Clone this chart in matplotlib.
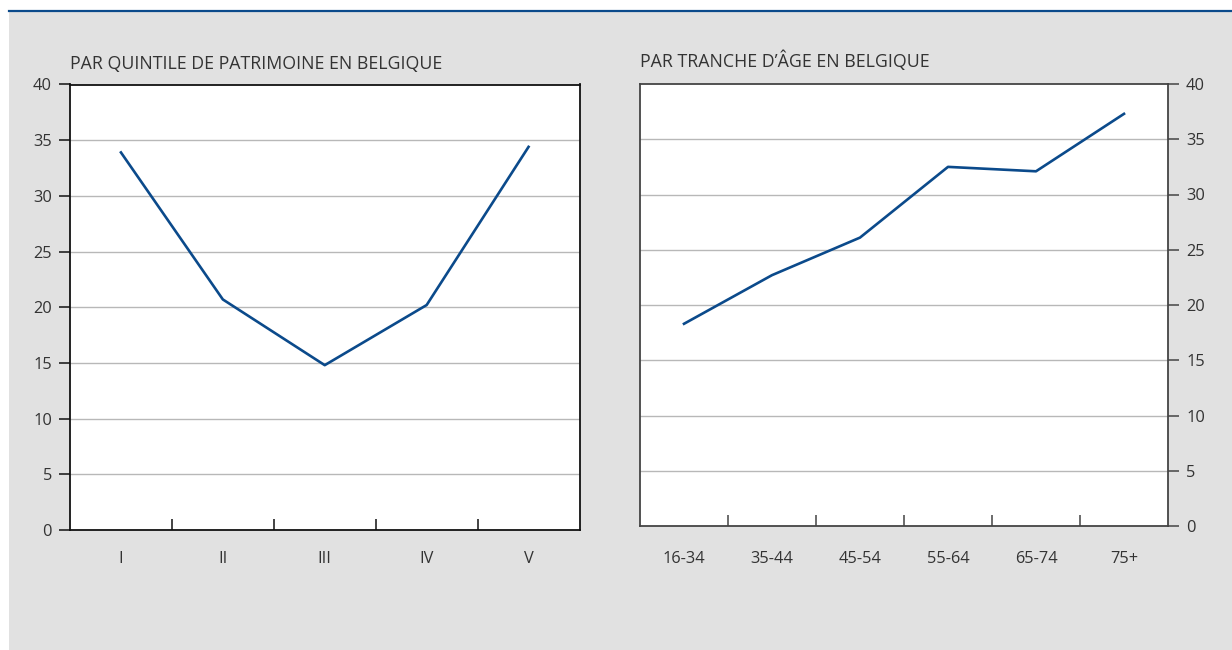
import matplotlib.pyplot as plt
from matplotlib.patches import Rectangle
from matplotlib.lines import Line2D

plt.rcParams['font.family'] = ['Open Sans', 'DejaVu Sans']

# data
quintiles = ["I", "II", "III", "IV", "V"]
quintile_vals = [33.9, 20.7, 14.8, 20.2, 34.4]

age_groups = ["16-34", "35-44", "45-54", "55-64", "65-74", "75+"]
age_vals = [18.3, 22.7, 26.1, 32.5, 32.1, 37.3]

titles = ["PAR QUINTILE DE PATRIMOINE EN BELGIQUE", "PAR TRANCHE D\u2019\u00c2GE EN BELGIQUE"]

LINE_COL = "#0b4a8b"
TEXT_COL = "#333333"
GRID_COL = "#b8b8b8"
BG = "#e1e1e1"

W, H = 1232, 650
fig = plt.figure(figsize=(W / 100, H / 100), dpi=100, facecolor="white")

# grey panel + blue rule on top
fig.add_artist(Rectangle((9 / W, 0), 1 - 9 / W, 1 - 11 / H, transform=fig.transFigure,
                         facecolor=BG, edgecolor="none", zorder=-5))
fig.add_artist(Line2D([9 / W, 1], [1 - 10.5 / H, 1 - 10.5 / H], transform=fig.transFigure,
                      color=LINE_COL, linewidth=1.6, zorder=-4))


def px_axes(x0, y0, x1, y1):
    return fig.add_axes([x0 / W, 1 - y1 / H, (x1 - x0) / W, (y1 - y0) / H])


def style(ax, cats, vals, title, title_y, spine_col, side, xpad):
    n = len(cats)
    x = list(range(n))
    ax.set_facecolor("white")
    ax.plot(x, vals, color=LINE_COL, linewidth=1.9, zorder=3)
    ax.set_xlim(-0.5, n - 0.5)
    ax.set_ylim(0, 40)
    ax.set_yticks(range(0, 41, 5))
    ax.set_xticks(x)
    ax.set_xticklabels(cats)
    ax.set_xticks([i + 0.5 for i in range(n - 1)], minor=True)
    ax.tick_params(axis="x", which="major", length=0, pad=xpad, labelsize=11.8, labelcolor=TEXT_COL)
    ax.tick_params(axis="x", which="minor", direction="in", length=8, width=1.1, color=spine_col)
    ax.tick_params(axis="y", length=8, width=1.1, color=spine_col, pad=5, labelsize=11.8,
                   labelcolor=TEXT_COL, left=(side == "left"), labelleft=(side == "left"),
                   right=(side == "right"), labelright=(side == "right"))
    for y in range(5, 40, 5):
        ax.axhline(y, color=GRID_COL, linewidth=1.0, zorder=1)
    for s in ax.spines.values():
        s.set_color(spine_col)
        s.set_linewidth(1.3)
        s.set_zorder(4)
    x0 = ax.get_position().x0
    fig.text(x0, 1 - title_y / H, title, ha="left", va="baseline",
             fontsize=12.8, color=TEXT_COL)


ax1 = px_axes(70, 84.5, 579.5, 530)
style(ax1, quintiles, quintile_vals, titles[0], 69.3, "#111111", "left", 15)

ax2 = px_axes(640, 84, 1168, 526)
style(ax2, age_groups, age_vals, titles[1], 66.7, "#444444", "right", 18)

fig.savefig("out.png", dpi=100, facecolor=fig.get_facecolor())
